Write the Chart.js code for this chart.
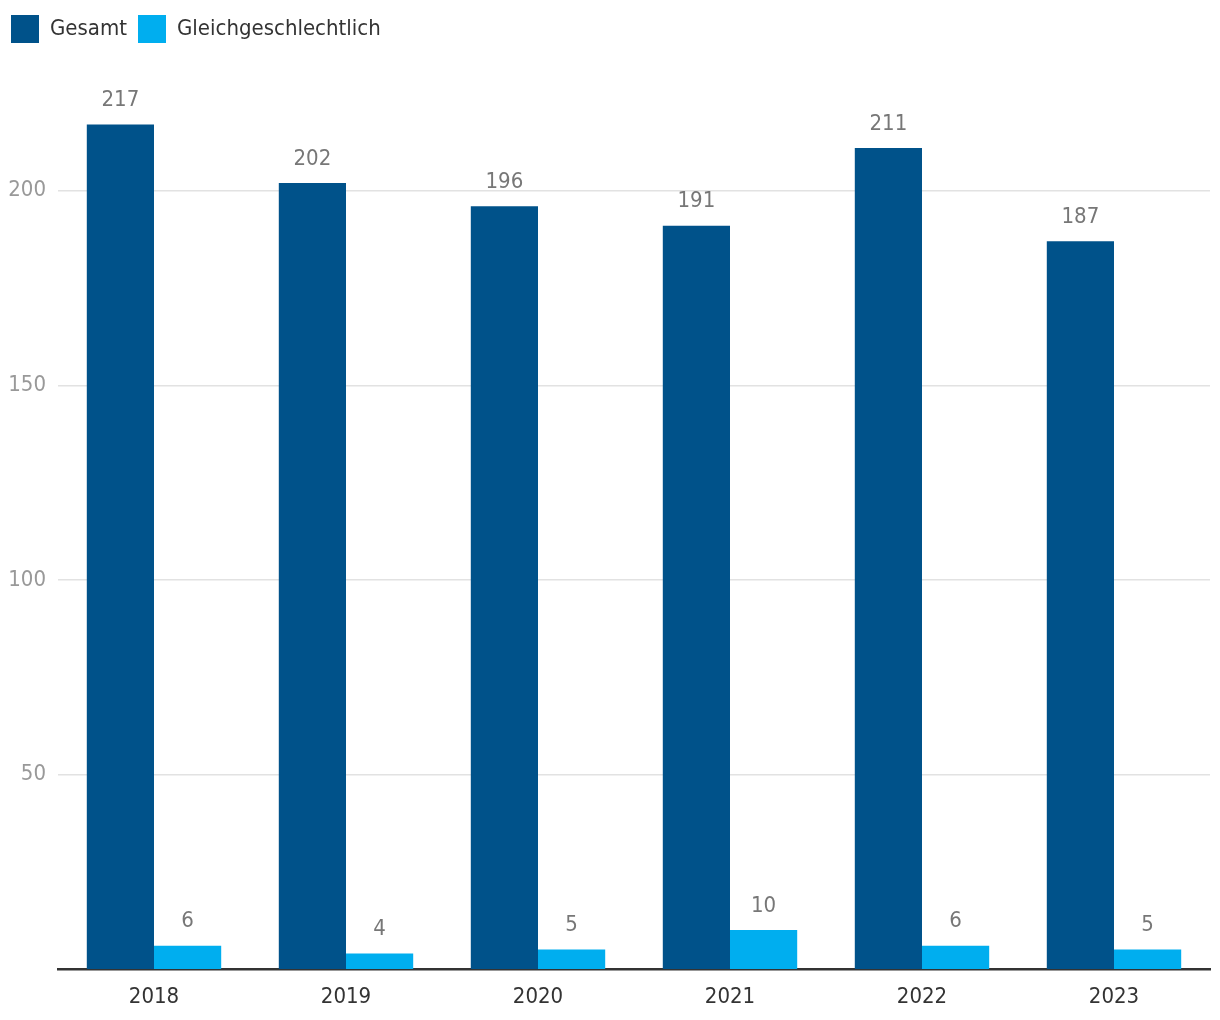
<!DOCTYPE html>
<html>
<head>
<meta charset="utf-8">
<script src="https://cdn.jsdelivr.net/npm/chart.js@4.4.1/dist/chart.umd.min.js"></script>
<style>
html,body{margin:0;padding:0;background:#fff;}
#wrap{width:1220px;height:1020px;}
</style>
</head>
<body>
<div id="wrap"><canvas id="c" width="1220" height="1020"></canvas></div>
<script>
const years = ['2018','2019','2020','2021','2022','2023'];
const gesamt = [217, 202, 196, 191, 211, 187];
const gleich = [6, 4, 5, 10, 6, 5];
const seriesNames = ['Gesamt', 'Gleichgeschlechtlich'];
const yTickStep = 50;

const FONT = "'Liberation Sans Narrow', 'DejaVu Sans Condensed', 'Roboto', sans-serif";
const FS = 22;

const valueLabels = {
  id: 'valueLabels',
  afterDatasetsDraw(chart) {
    const ctx = chart.ctx;
    ctx.save();
    ctx.font = FS + 'px ' + FONT;
    ctx.fillStyle = '#777777';
    ctx.textAlign = 'center';
    ctx.textBaseline = 'middle';
    chart.data.datasets.forEach((ds, i) => {
      const meta = chart.getDatasetMeta(i);
      meta.data.forEach((bar, j) => {
        ctx.fillText(String(ds.data[j]), bar.x, bar.y - 24);
      });
    });
    ctx.restore();
  }
};

const legendHeight = {
  id: 'legendHeight',
  beforeInit(chart) {
    const orig = chart.legend.fit;
    chart.legend.fit = function () {
      orig.bind(chart.legend)();
      this.height = 70;
    };
  }
};

new Chart(document.getElementById('c'), {
  type: 'bar',
  data: {
    labels: years,
    datasets: [
      { label: seriesNames[0], data: gesamt, backgroundColor: '#00528a' },
      { label: seriesNames[1], data: gleich, backgroundColor: '#00aeef' }
    ]
  },
  options: {
    responsive: false,
    animation: false,
    devicePixelRatio: 1,
    layout: { padding: { left: 0, right: 10, top: 4, bottom: 12 } },
    datasets: { bar: { categoryPercentage: 0.7, barPercentage: 1.0 } },
    plugins: {
      legend: {
        position: 'top',
        align: 'start',
        labels: {
          boxWidth: 28,
          boxHeight: 28,
          padding: 11,
          color: '#333333',
          font: { family: FONT, size: FS }
        }
      },
      tooltip: { enabled: false }
    },
    scales: {
      x: {
        grid: { display: false, drawTicks: false },
        border: { display: true, color: '#333333', width: 2.5 },
        ticks: { color: '#333333', padding: 15, font: { family: FONT, size: FS } },
        afterFit(s) { s.height = 39; }
      },
      y: {
        min: 0,
        max: 230,
        grid: { color: '#e2e2e2', lineWidth: 1.5, drawTicks: false },
        border: { display: false },
        ticks: { stepSize: yTickStep, color: '#999999', padding: 12, font: { family: FONT, size: FS } },
        afterBuildTicks(s) { s.ticks = s.ticks.filter(t => t.value % yTickStep === 0 && t.value > 0); },
        afterFit(s) { s.width = 58; }
      }
    }
  },
  plugins: [valueLabels, legendHeight]
});
</script>
</body>
</html>
